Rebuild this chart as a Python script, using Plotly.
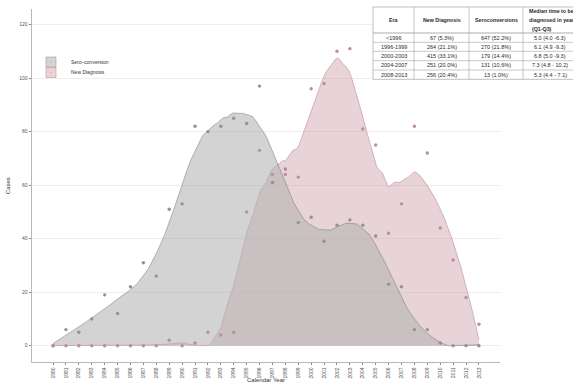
import numpy as np
import plotly.graph_objects as go

years = list(range(1980, 2014))
sero = [0, 6, 5, 10, 19, 12, 22, 31, 26, 51, 53, 82, 80, 82, 85, 83,
        97, 61, 66, 46, 48, 39, 45, 47, 45, 41, 23, 22, 6, 6, 1, 0, 0, 0]
newdiag = [0, 0, 0, 0, 0, 0, 0, 0, 0, 2, 0, 1, 5, 4, 5, 50,
           73, 64, 64, 63, 96, 98, 110, 111, 81, 75, 42, 53, 82, 72, 44, 32, 18, 8]

y_ticks = [0, 20, 40, 60, 80, 100, 120]

eras = ["&lt;1996", "1996-1999", "2000-2003", "2004-2007", "2008-2013"]
nd_col = ["67 (5.3%)", "264 (21.1%)", "415 (33.1%)", "251 (20.0%)", "256 (20.4%)"]
sero_col = ["647 (52.2%)", "270 (21.8%)", "179 (14.4%)", "131 (10.6%)", "13 (1.0%)"]
median_col = ["5.0 (4.0 -6.3)", "6.1 (4.9 -9.3)", "6.8 (5.0 -9.3)", "7.3 (4.8 - 10.2)", "5.3 (4.4 - 7.1)"]
headers = ["Era", "New Diagnosis", "Seroconversions"]
median_header = ["Median time to be", "diagnosed in years", "\u00a0\u00a0(Q1-Q3)"]


def loess(x, y, xs, span=0.3, deg=2):
    x = np.asarray(x, float)
    y = np.asarray(y, float)
    n = len(x)
    q = int(np.floor(n * span))
    out = []
    for x0 in xs:
        d = np.abs(x - x0)
        h = np.sort(d)[q - 1] * 1.0001
        w = np.clip(1 - (d / h) ** 3, 0, None) ** 3
        A = np.vander(x - x0, deg + 1)
        sw = np.sqrt(w)
        coef = np.linalg.lstsq(A * sw[:, None], y * sw, rcond=None)[0]
        out.append(coef[-1])
    return np.clip(np.array(out), 0, None)


grid = np.linspace(1980, 2013, 500)
sero_fit = loess(years, sero, grid, span=0.3)
nd_fit = loess(years, newdiag, grid, span=0.35)

# ---- layout geometry (pixels) ----
W, H = 573, 383
ML, MR, MT, MB = 32, 0, 7, 21
PW, PH = W - ML - MR, H - MT - MB


def px(xp):
    return (xp - ML) / PW


def py(yp):
    return (H - MB - yp) / PH


FONT = "Liberation Sans"
SERO_FILL = "rgba(177,177,177,0.565)"
ND_FILL = "rgba(189,129,144,0.35)"

fig = go.Figure()
fig.add_trace(go.Scatter(
    x=grid, y=nd_fit, mode="lines", fill="tozeroy", showlegend=False,
    line=dict(color="rgba(180,125,140,0.85)", width=0.6),
    fillcolor=ND_FILL, hoverinfo="skip"))
fig.add_trace(go.Scatter(
    x=grid, y=sero_fit, mode="lines", fill="tozeroy", showlegend=False,
    line=dict(color="rgba(125,125,125,0.9)", width=0.6),
    fillcolor=SERO_FILL, hoverinfo="skip"))
fig.add_trace(go.Scatter(
    x=years, y=sero, mode="markers", showlegend=False,
    marker=dict(color="#929292", size=3.4)))
fig.add_trace(go.Scatter(
    x=years, y=newdiag, mode="markers", showlegend=False,
    marker=dict(color="#bd8d9b", size=3.4)))

# legend entries
fig.add_trace(go.Scatter(
    x=[None], y=[None], mode="markers", name="Sero\u2013conversion", legend="legend",
    marker=dict(symbol="square-dot", size=10, color="#d4d4d4",
                line=dict(color="#9a9a9a", width=0.6))))
fig.add_trace(go.Scatter(
    x=[None], y=[None], mode="markers", name="New Diagnosis", legend="legend2",
    marker=dict(symbol="square-dot", size=10, color="#ead3d9",
                line=dict(color="#c0909c", width=0.6))))

# ---- table (drawn in paper coords) ----
col_edges = [373, 414, 469, 523, 600]
row_edges = [7, 33, 42.3, 51.3, 60.7, 70, 79.3]
LC = "#a3a3a3"
shapes = [dict(type="rect", xref="paper", yref="paper",
               x0=px(col_edges[0]), x1=px(col_edges[-1]),
               y0=py(row_edges[-1]), y1=py(row_edges[0]),
               fillcolor="white", line=dict(color=LC, width=0.7), layer="above")]
for xe in col_edges[1:-1]:
    shapes.append(dict(type="line", xref="paper", yref="paper",
                       x0=px(xe), x1=px(xe), y0=py(row_edges[-1]), y1=py(row_edges[0]),
                       line=dict(color=LC, width=0.6), layer="above"))
for ye in row_edges[1:-1]:
    shapes.append(dict(type="line", xref="paper", yref="paper",
                       x0=px(col_edges[0]), x1=px(col_edges[-1]), y0=py(ye), y1=py(ye),
                       line=dict(color=LC, width=0.6 if ye != row_edges[1] else 0.9),
                       layer="above"))

annotations = []
col_centers = [393.5, 441.5, 496, 550]
hdr_y = (row_edges[0] + row_edges[1]) / 2
for c, t in zip(col_centers[:3], headers):
    annotations.append(dict(xref="paper", yref="paper", x=px(c), y=py(hdr_y + 0.3),
                            text="<b>" + t + "</b>", showarrow=False,
                            xanchor="center", yanchor="middle",
                            font=dict(family=FONT, size=5.3, color="#2a2a2a")))
for i, t in enumerate(median_header):
    annotations.append(dict(xref="paper", yref="paper", x=px(527.3), y=py(11.2 + 8.8 * i),
                            text="<b>" + t + "</b>", showarrow=False,
                            xanchor="left", yanchor="middle",
                            font=dict(family=FONT, size=5.3, color="#2a2a2a")))
for ci, col in enumerate([eras, nd_col, sero_col, median_col]):
    for ri, t in enumerate(col):
        yc = (row_edges[ri + 1] + row_edges[ri + 2]) / 2
        annotations.append(dict(xref="paper", yref="paper", x=px(col_centers[ci]), y=py(yc),
                                text=t, showarrow=False, xanchor="center", yanchor="middle",
                                font=dict(family=FONT, size=5.5, color="#2a2a2a")))

fig.update_layout(
    width=W, height=H,
    margin=dict(l=ML, r=MR, t=MT, b=MB, autoexpand=False),
    paper_bgcolor="white", plot_bgcolor="white",
    font=dict(family=FONT, size=5, color="#555"),
    shapes=shapes, annotations=annotations,
    legend=dict(x=px(51 - 20), y=py(62), xanchor="left", yanchor="middle",
                font=dict(family=FONT, size=5, color="#333"), bgcolor="rgba(0,0,0,0)",
                itemwidth=30),
    legend2=dict(x=px(51 - 20), y=py(72.5), xanchor="left", yanchor="middle",
                 font=dict(family=FONT, size=5, color="#333"), bgcolor="rgba(0,0,0,0)",
                 itemwidth=30),
    xaxis=dict(domain=[0, 468 / PW], range=[1978.37, 2014.63], automargin=False,
               tickmode="array", tickvals=years, ticktext=[str(y) for y in years],
               tickangle=-90, showgrid=False, zeroline=False,
               showline=True, linecolor="#b8b8b8", linewidth=0.8,
               ticks="outside", ticklen=2.5, tickcolor="#888", tickwidth=0.6,
               tickfont=dict(family=FONT, size=5, color="#555"),
               title=dict(text="Calendar Year", font=dict(family=FONT, size=6, color="#333"),
                          standoff=6)),
    yaxis=dict(domain=[0, (H - MB - 9.3) / PH], range=[-6.1, 125.7], automargin=False,
               tickmode="array", tickvals=y_ticks,
               showgrid=True, gridcolor="#f4ede2", gridwidth=0.7, zeroline=False,
               showline=True, linecolor="#b8b8b8", linewidth=0.8,
               ticks="outside", ticklen=2.5, tickcolor="#888", tickwidth=0.6,
               tickfont=dict(family=FONT, size=5, color="#555"),
               title=dict(text="Cases", font=dict(family=FONT, size=6, color="#333"),
                          standoff=8)),
)

fig.write_html("out.html", config={"displayModeBar": False},
               post_script="document.body.style.margin='0';document.body.style.overflow='hidden';")
